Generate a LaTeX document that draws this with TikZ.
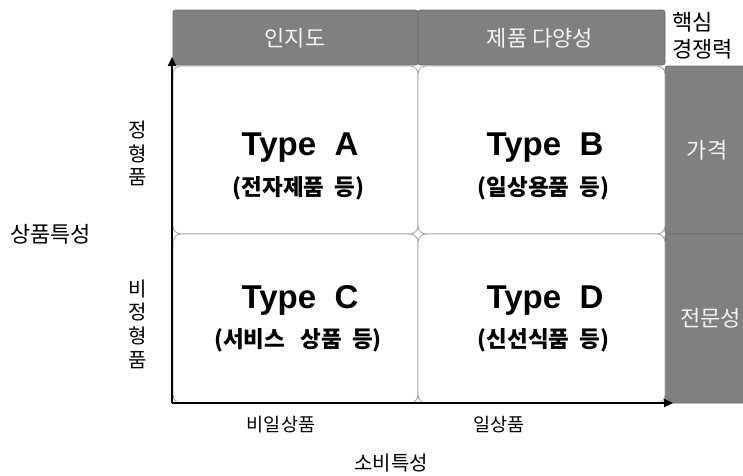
\documentclass[tikz,border=0pt]{standalone}
\usepackage{fontspec}
\setmainfont{Liberation Sans}
\newfontfamily\kr{Noto Sans CJK KR}
\usetikzlibrary{arrows.meta}
\definecolor{bargray}{HTML}{808080}
\definecolor{barline}{HTML}{6E6E6E}
\definecolor{bartext}{HTML}{F2F2F2}
\definecolor{cellline}{HTML}{A0A0A0}
\begin{document}
\begin{tikzpicture}[x=1pt,y=-1pt,
  barcell/.style={draw=barline, fill=bargray, rounded corners=2.5pt, line width=0.7pt,
    inner sep=0pt, outer sep=0pt},
  quad/.style={draw=cellline, fill=white, rounded corners=8pt, line width=0.8pt,
    inner sep=0pt, outer sep=0pt, minimum width=245pt},
  bartxt/.style={text=bartext, inner sep=0pt, font=\kr\fontsize{22}{26}\selectfont},
  lbl/.style={inner sep=0pt, font=\kr\fontsize{22}{26}\selectfont},
  smlbl/.style={inner sep=0pt, font=\kr\fontsize{18.5}{22}\selectfont},
  vlbl/.style={inner sep=0pt, align=center, font=\kr\fontsize{20}{23.7}\selectfont},
  typetxt/.style={inner sep=0pt, anchor=base, font=\bfseries\fontsize{33}{36}\selectfont},
  subtxt/.style={inner sep=0pt, font=\kr\bfseries\fontsize{22.5}{26}\selectfont},
  axis/.style={line width=2pt, -{Triangle[length=9pt,width=8pt]}}
]
\useasboundingbox (0,0) rectangle (743,475);
\clip (0,0) rectangle (743,475);

% top bar
\node[barcell, minimum width=245pt, minimum height=55pt] (t1) at (295.5,37.5) {};
\node[barcell, minimum width=247pt, minimum height=55pt] (t2) at (541.5,37.5) {};
% right bar
\node[barcell, minimum width=100pt, minimum height=168pt] (r1) at (715,150) {};
\node[barcell, minimum width=100pt, minimum height=169pt] (r2) at (715,318.5) {};

% quadrants
\node[quad, minimum height=168pt] (qa) at (295.5,150) {};
\node[quad, minimum height=168pt, minimum width=247pt] (qb) at (541.5,150) {};
\node[quad, minimum height=169pt] (qc) at (295.5,318.5) {};
\node[quad, minimum height=169pt, minimum width=247pt] (qd) at (541.5,318.5) {};

% axes
\coordinate (O) at (172,403);
\coordinate (ytop) at (172,57);
\coordinate (xend) at (673,403);
\draw[axis] (O) -- (ytop);
\draw[axis] (O) -- (xend);

% bar texts
\node[bartxt] (l1) at (295,38) {인지도};
\node[bartxt] (l2) at (540,38) {제품 다양성};
\node[bartxt] (l3) at (707,150) {가격};
\node[bartxt, anchor=west] (l4) at (680,318) {전문성};
\node[lbl, anchor=west, align=left, font=\kr\fontsize{22}{27.5}\selectfont] (core) at (672,36) {핵심\\경쟁력};

% quadrant texts
\node[typetxt] (ta) at (300,155) {Type~~A};
\node[typetxt] (tb) at (545,155) {Type~~B};
\node[typetxt] (tc) at (300,308) {Type~~C};
\node[typetxt] (td) at (545,308) {Type~~D};
\node[subtxt] (sa) at (298.5,188) {(전자제품~~등)};
\node[subtxt] (sb) at (543.5,188) {(일상용품~~등)};
\node[subtxt] (sc) at (298,340) {(서비스~~~상품~~등)};
\node[subtxt] (sd) at (543.5,340) {(신선식품~~등)};

% axis labels
\node[lbl] (ya) at (50.5,234) {상품특성};
\node[vlbl] (y1) at (138,153.5) {정\\형\\품};
\node[vlbl] (y2) at (138,324) {비\\정\\형\\품};
\node[smlbl] (x1) at (281,425) {비일상품};
\node[smlbl] (x2) at (499,425) {일상품};
\node[lbl, font=\kr\fontsize{20}{24}\selectfont] (xa) at (391,463) {소비특성};
\end{tikzpicture}
\end{document}
